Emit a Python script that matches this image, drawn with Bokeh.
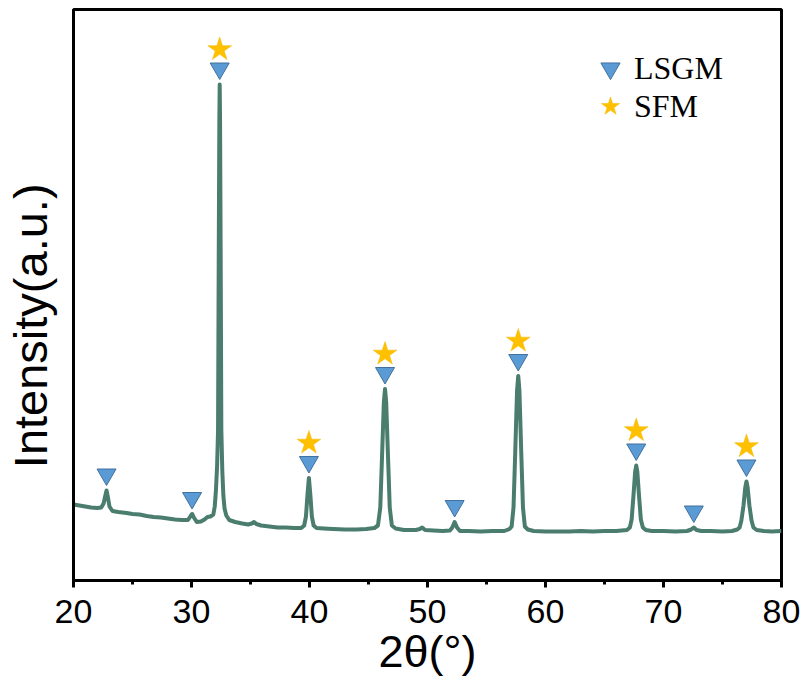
from bokeh.plotting import figure
from bokeh.models import Range1d, Legend, LegendItem, FixedTicker, ColumnDataSource
from bokeh.embed import file_html
from bokeh.resources import INLINE

# ---- data ----
two_theta = [20.0, 20.5, 21.0, 21.5, 22.0, 22.35, 22.55, 22.7, 22.8, 22.9, 23.05, 23.3, 23.8,
             24.5, 25.0, 25.6, 26.2, 26.8, 27.4, 28.0, 28.6, 29.2, 29.7, 29.9, 30.05, 30.2,
             30.45, 30.8, 31.1, 31.35, 31.6, 31.85, 31.97, 32.07, 32.17, 32.25, 32.31, 32.36,
             32.39, 32.42, 32.47, 32.53, 32.61, 32.7, 32.8, 32.95, 33.2, 33.7, 34.3, 34.8,
             35.1, 35.3, 35.5, 35.9, 36.6, 37.3, 38.0, 38.7, 39.3, 39.55, 39.7, 39.83, 39.95,
             40.07, 40.2, 40.35, 40.6, 41.2, 42.0, 43.0, 44.0, 44.8, 45.5, 45.8, 46.0, 46.15,
             46.3, 46.4, 46.5, 46.65, 46.8, 46.98, 47.3, 48.0, 49.0, 49.35, 49.55, 49.8, 50.5,
             51.3, 51.9, 52.1, 52.3, 52.5, 52.75, 53.5, 54.5, 55.5, 56.5, 56.95, 57.13, 57.29,
             57.44, 57.59, 57.69, 57.79, 57.94, 58.09, 58.25, 58.5, 59.0, 60.0, 61.0, 62.0,
             63.0, 64.0, 65.0, 66.0, 66.9, 67.15, 67.3, 67.45, 67.6, 67.69, 67.78, 67.93,
             68.08, 68.25, 68.5, 69.0, 70.0, 71.0, 72.0, 72.35, 72.57, 72.8, 73.2, 74.0, 75.0,
             75.8, 76.25, 76.45, 76.6, 76.78, 76.93, 77.03, 77.13, 77.28, 77.46, 77.62, 77.9,
             78.5, 79.2, 80.0]
intensity = [76, 75, 74, 73, 72.5, 73, 77, 85, 90, 84, 74, 69.5, 68.5,
             67.5, 66.5, 66, 64.5, 63.5, 63, 62, 61, 60.5, 60.5, 64, 66.5, 63,
             58.5, 59, 61, 63.5, 64, 66, 74, 90, 115, 150, 330, 460,
             496, 460, 330, 150, 110, 85, 72, 65, 60.5, 58.5, 57, 56,
             57, 58.5, 56.5, 55, 54, 53, 53, 52.5, 52.5, 55, 64, 86, 102.5,
             86, 64, 55, 52.5, 52, 51.5, 51, 51, 51.5, 52.5, 55, 73, 125,
             178, 191.5, 178, 125, 73, 55, 52, 50.5, 50.5, 51.5, 53, 50.5, 50,
             49.5, 50, 53, 58.5, 53, 49.5, 49.5, 49, 49.5, 49.5, 51.5, 54, 73,
             130, 190, 204.5, 190, 130, 73, 54, 51, 49.5, 49, 49, 49,
             49.5, 49, 49.5, 49.5, 50.5, 53, 61, 84, 109, 115, 109, 84,
             61, 53, 50.5, 49.5, 49.5, 49, 49.5, 51, 53, 50.5, 49.5, 49.5, 49,
             49.5, 51, 53, 60, 75, 93, 99, 93, 75, 60, 53, 50.5,
             49.5, 49, 49.5]

lsgm_pos = [22.8, 30.05, 32.39, 39.95, 46.4, 52.3, 57.69, 67.69, 72.57, 77.03]
lsgm_peak = [90, 66.5, 496, 102.5, 191.5, 58.5, 204.5, 115, 53, 99]
sfm_pos = [32.39, 39.95, 46.4, 57.69, 67.69, 77.03]
sfm_peak = [496, 102.5, 191.5, 204.5, 115, 99]

x_ticks = [20, 30, 40, 50, 60, 70, 80]
x_minor = [25, 35, 45, 55, 65, 75]

TRI_GAP = 16
STAR_GAP = 35

p = figure(width=807, height=683, x_range=Range1d(20, 80), y_range=Range1d(0, 571),
           output_backend="svg", toolbar_location=None,
           min_border_left=73, min_border_right=26, min_border_top=9, min_border_bottom=103)
p.grid.visible = False
p.outline_line_color = "black"
p.outline_line_width = 3
p.background_fill_color = "white"
p.border_fill_color = "white"

line_src = ColumnDataSource(dict(x=two_theta, y=intensity))
p.line("x", "y", source=line_src, line_color="#4A7D6E", line_width=4, line_join="round")

tri_src = ColumnDataSource(dict(x=lsgm_pos, y=[v + TRI_GAP for v in lsgm_peak]))
star_src = ColumnDataSource(dict(x=sfm_pos, y=[v + STAR_GAP for v in sfm_peak]))
tri_r = p.scatter("x", "y", source=tri_src, marker="inverted_triangle", size=19,
                  fill_color="#5B9BD5", line_color="#41719C", line_width=1)
star_r = p.scatter("x", "y", source=star_src, marker="star", size=25,
                   fill_color="#FFC000", line_color="#F5B800", line_width=0.5)

xa = p.xaxis[0]
xa.ticker = FixedTicker(ticks=x_ticks, minor_ticks=x_minor)
xa.major_tick_out = 7
xa.major_tick_in = 0
xa.minor_tick_out = 4
xa.minor_tick_in = 0
xa.major_tick_line_width = 3
xa.minor_tick_line_width = 3
xa.axis_line_width = 3
xa.major_label_text_font = "Liberation Sans"
xa.major_label_text_font_size = "34px"
xa.major_label_text_color = "black"
xa.major_label_standoff = 12
xa.axis_label = "2θ(°)"
xa.axis_label_text_font = "Liberation Sans"
xa.axis_label_text_font_size = "45px"
xa.axis_label_text_font_style = "normal"
xa.axis_label_text_color = "black"
xa.axis_label_standoff = 0

ya = p.yaxis[0]
ya.ticker = FixedTicker(ticks=[])
ya.major_tick_out = 0
ya.major_tick_in = 0
ya.minor_tick_out = 0
ya.minor_tick_in = 0
ya.major_label_text_font_size = "0px"
ya.axis_line_width = 3
# trailing no-break spaces move the visible text slightly below the frame centre, as in the reference
ya.axis_label = "Intensity(a.u.)" + "\u00a0\u00a0\u00a0\u00a0\u2009"
ya.axis_label_text_font = "Liberation Sans"
ya.axis_label_text_font_size = "47px"
ya.axis_label_text_font_style = "normal"
ya.axis_label_text_color = "black"
ya.axis_label_standoff = 17

leg_common = dict(glyph_width=48, glyph_height=48, label_standoff=0, padding=0, margin=0,
                  border_line_color=None, background_fill_alpha=0,
                  label_text_font="Liberation Serif", label_text_font_size="32px",
                  label_text_color="black")
leg1 = Legend(items=[LegendItem(label="LSGM", renderers=[tri_r])], location=(513, 488), **leg_common)
leg2 = Legend(items=[LegendItem(label="SFM", renderers=[star_r])], location=(513, 450), **leg_common)
p.add_layout(leg1)
p.add_layout(leg2)

open("out.html", "w").write(file_html(p, INLINE))
